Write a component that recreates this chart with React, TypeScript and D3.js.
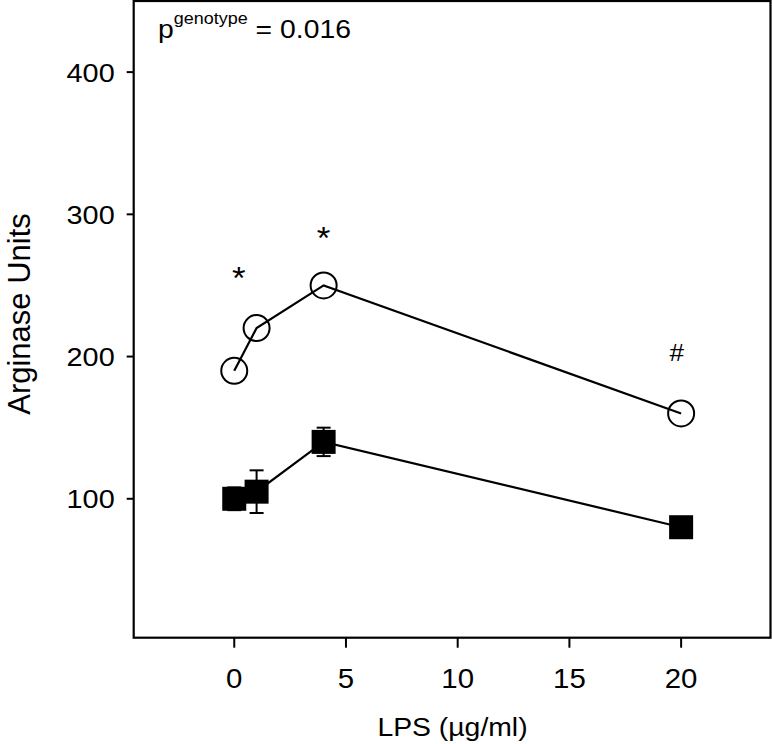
import * as d3 from "d3";

// LPS dose (µg/ml) on x, arginase activity on y
const doses = [0, 1, 4, 20];
const openSeries = [190, 220, 250, 160];
const filledSeries = [100, 105, 140, 80];
const filledErr = [8, 15, 10, 6];

const xTicks = [0, 5, 10, 15, 20];
const yTicks = [100, 200, 300, 400];

// significance marks: [dose, value, glyph]
const marks: [number, number, string][] = [
  [0.2, 260, "*"],
  [4, 288, "*"],
  [19.8, 203, "#"],
];

const W = 772;
const H = 744;
const left = 133.7;
const right = 770.5;
const top = 1;
const bottom = 637.7;
const font = "'Liberation Sans', Arial, Helvetica, sans-serif";
const sx = 1.09; // the original figure is slightly stretched sideways

export default function App() {
  const x = d3.scaleLinear().domain([-4.5, 24]).range([left, right]);
  const y = d3.scaleLinear().domain([0, 450]).range([641, 1]);

  const line = d3
    .line<number>()
    .x((_, i) => x(doses[i]))
    .y((d) => y(d));

  const sq = 24;
  const r = 13;
  const cap = 7;

  return (
    <svg
      width={W}
      height={H}
      style={{ position: "absolute", left: 0, top: 0, background: "#fff" }}
      fontFamily={font}
    >
      <rect x={0} y={0} width={W} height={H} fill="#fff" />

      {/* frame */}
      <rect
        x={left}
        y={top}
        width={right - left}
        height={bottom - top}
        fill="none"
        stroke="#000"
        strokeWidth={2.2}
      />

      {/* y axis */}
      {yTicks.map((t) => (
        <g key={t}>
          <line x1={left - 7} x2={left} y1={y(t)} y2={y(t)} stroke="#000" strokeWidth={2} />
          <text
            transform={`translate(${left - 19},${y(t) + 9.5}) scale(${sx},1)`}
            textAnchor="end"
            fontSize={26.5}
          >
            {t}
          </text>
        </g>
      ))}
      <text
        transform="translate(30,314) rotate(-90)"
        textAnchor="middle"
        fontSize={31}
      >
        Arginase Units
      </text>

      {/* x axis */}
      {xTicks.map((t) => (
        <g key={t}>
          <line x1={x(t)} x2={x(t)} y1={bottom} y2={bottom + 10} stroke="#000" strokeWidth={2} />
          <text
            transform={`translate(${x(t)},${687.5}) scale(${sx},1)`}
            textAnchor="middle"
            fontSize={27}
          >
            {t}
          </text>
        </g>
      ))}
      <text
        transform={`translate(452.5,736) scale(${sx},1)`}
        textAnchor="middle"
        fontSize={26}
      >
        LPS (µg/ml)
      </text>

      {/* p value */}
      <text transform={`translate(158,37.5) scale(${sx},1)`} fontSize={26}>
        p
        <tspan dy={-14} fontSize={16.5}>
          genotype
        </tspan>
        <tspan dy={14}> = 0.016</tspan>
      </text>

      {/* lines */}
      <path d={line(openSeries) ?? ""} fill="none" stroke="#000" strokeWidth={2.2} />
      <path d={line(filledSeries) ?? ""} fill="none" stroke="#000" strokeWidth={2.2} />

      {/* error bars, filled series */}
      {filledSeries.map((v, i) => {
        const cx = x(doses[i]);
        const y1 = y(v + filledErr[i]);
        const y0 = y(v - filledErr[i]);
        return (
          <g key={i} stroke="#000" strokeWidth={2}>
            <line x1={cx} x2={cx} y1={y1} y2={y0} />
            <line x1={cx - cap} x2={cx + cap} y1={y1} y2={y1} />
            <line x1={cx - cap} x2={cx + cap} y1={y0} y2={y0} />
          </g>
        );
      })}

      {/* markers */}
      {filledSeries.map((v, i) => (
        <rect
          key={i}
          x={x(doses[i]) - sq / 2}
          y={y(v) - sq / 2}
          width={sq}
          height={sq}
          fill="#000"
        />
      ))}
      {openSeries.map((v, i) => (
        <circle
          key={i}
          cx={x(doses[i])}
          cy={y(v)}
          r={r}
          fill="none"
          stroke="#000"
          strokeWidth={2}
        />
      ))}

      {/* significance marks */}
      {marks.map(([d, v, g], i) => (
        <text
          key={i}
          transform={`translate(${x(d)},${y(v) + (g === "*" ? 18 : 8.5)}) scale(${sx},1)`}
          textAnchor="middle"
          fontSize={g === "*" ? 32 : 24}
        >
          {g}
        </text>
      ))}
    </svg>
  );
}
